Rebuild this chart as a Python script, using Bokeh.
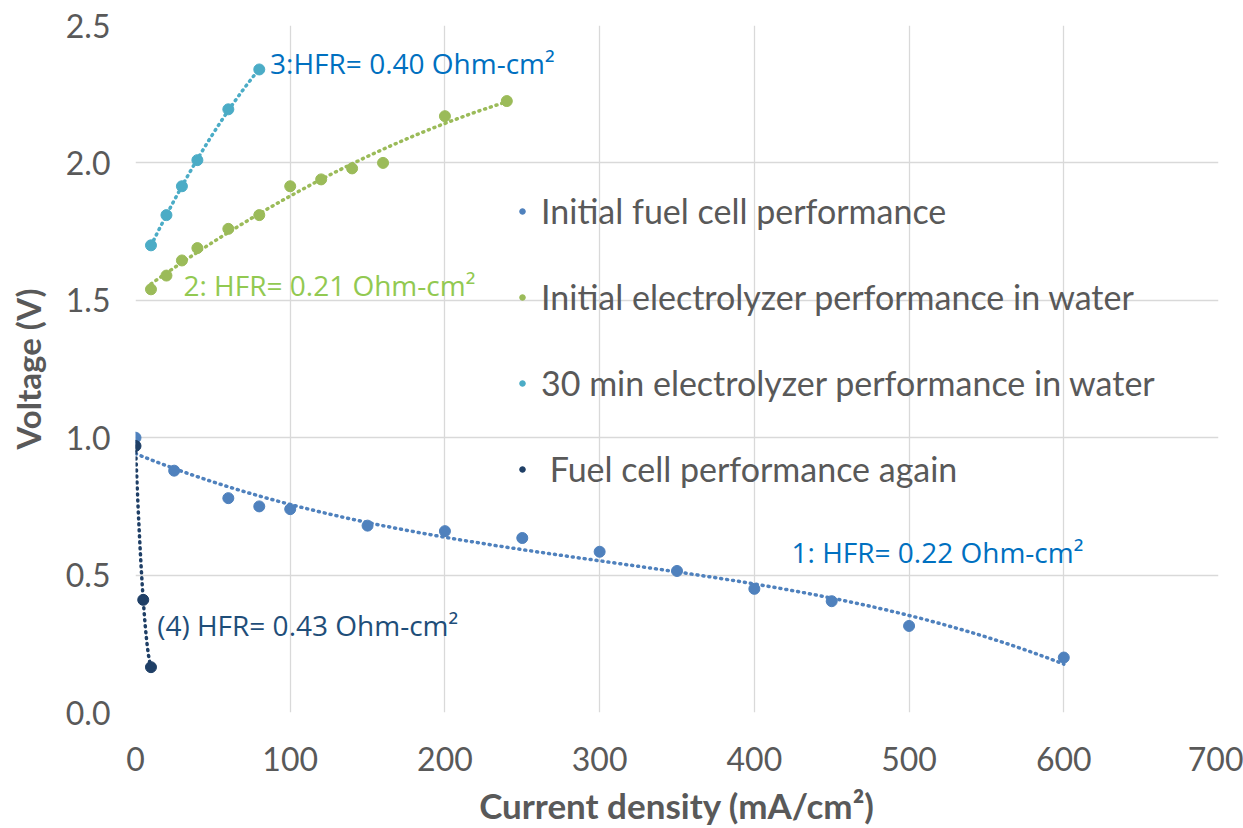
import numpy as np
from bokeh.plotting import figure
from bokeh.models import Range1d, Legend, LegendItem, Label, FixedTicker, CustomJSTickFormatter
from bokeh.embed import file_html
from bokeh.resources import INLINE

# ---- data ----
fc1_x = [0, 25, 60, 80, 100, 150, 200, 250, 300, 350, 400, 450, 500, 600]
fc1_y = [1.00, 0.88, 0.78, 0.75, 0.74, 0.68, 0.66, 0.635, 0.585, 0.515, 0.45, 0.405, 0.315, 0.20]

el1_x = [10, 20, 30, 40, 60, 80, 100, 120, 140, 160, 200, 240]
el1_y = [1.54, 1.59, 1.645, 1.69, 1.76, 1.81, 1.915, 1.94, 1.98, 2.00, 2.17, 2.225]

el2_x = [10, 20, 30, 40, 60, 80]
el2_y = [1.70, 1.81, 1.915, 2.01, 2.195, 2.34]

fc2_x = [0, 5, 10]
fc2_y = [0.97, 0.41, 0.165]

series_names = ["Initial fuel cell performance",
                "Initial electrolyzer performance in water",
                "30 min electrolyzer performance in water",
                " Fuel cell performance again"]
colors = ["#4F81BD", "#9BBB59", "#4BACC6", "#1F3F66"]
trend_degree = [3, 2, 2, 2]

annotations = ["1: HFR= 0.22 Ohm-cm\u00b2", "2: HFR= 0.21 Ohm-cm\u00b2",
               "3:HFR= 0.40 Ohm-cm\u00b2", "(4) HFR= 0.43 Ohm-cm\u00b2"]
ann_x = [424, 31, 87, 14]
ann_y = [0.585, 1.555, 2.365, 0.32]
ann_colors = ["#0070C0", "#92C951", "#0070C0", "#1F4E79"]

x_ticks = [0, 100, 200, 300, 400, 500, 600, 700]
y_ticks = [0.0, 0.5, 1.0, 1.5, 2.0, 2.5]

p = figure(width=1243, height=828, output_backend="svg", toolbar_location=None,
           x_range=Range1d(0, 700), y_range=Range1d(0, 2.5),
           min_border_left=135, min_border_right=25, min_border_top=25, min_border_bottom=115)
p.outline_line_color = None
p.background_fill_color = "white"
p.border_fill_color = "white"

for ax in (p.xaxis[0], p.yaxis[0]):
    ax.axis_line_color = None
    ax.major_tick_line_color = None
    ax.minor_tick_line_color = None
    ax.major_tick_out = 0
    ax.major_tick_in = 0
    ax.major_label_text_color = "#595959"
    ax.major_label_text_font = "Lato"
    ax.major_label_text_font_size = "32px"
    ax.axis_label_text_color = "#595959"
    ax.axis_label_text_font = "Lato"
    ax.axis_label_text_font_style = "bold"

p.xaxis.axis_label_text_font_size = "35px"
p.yaxis.axis_label_text_font_size = "33px"
p.xaxis.ticker = FixedTicker(ticks=x_ticks)
p.yaxis.ticker = FixedTicker(ticks=y_ticks)
p.yaxis.formatter = CustomJSTickFormatter(code="return tick.toFixed(1);")
p.xaxis.major_label_standoff = 34
p.yaxis.major_label_standoff = 25
p.xaxis.axis_label = "Current density (mA/cm\u00b2)"
p.yaxis.axis_label = "Voltage (V)"
p.xaxis.axis_label_standoff = 10
p.yaxis.axis_label_standoff = 15

p.xgrid.ticker = FixedTicker(ticks=x_ticks)
p.ygrid.ticker = FixedTicker(ticks=y_ticks)
p.xgrid.grid_line_color = "#D9D9D9"
p.ygrid.grid_line_color = "#D9D9D9"
p.xgrid.grid_line_width = 1.3
p.ygrid.grid_line_width = 1.3

all_x = [fc1_x, el1_x, el2_x, fc2_x]
all_y = [fc1_y, el1_y, el2_y, fc2_y]
items = []
for xs, ys, c, d in zip(all_x, all_y, colors, trend_degree):
    coef = np.polyfit(xs, ys, d)
    tx = np.linspace(min(xs), max(xs), 120)
    ty = np.polyval(coef, tx)
    p.line(tx, ty, line_color=c, line_width=3.5, line_dash="1 5", line_cap="round")
for xs, ys, c, name in zip(all_x, all_y, colors, series_names):
    r = p.scatter(xs, ys, size=11, fill_color=c, line_color=c)
    items.append(LegendItem(label=name, renderers=[r]))

legend = Legend(items=items, location=(380, 223), orientation="vertical",
                label_text_font="Lato", label_text_font_size="34px",
                label_text_color="#595959", label_height=36, glyph_height=36,
                glyph_width=14, spacing=45, label_standoff=12, padding=0, margin=0,
                border_line_color=None, background_fill_alpha=0)
p.add_layout(legend, "center")

for t, x, y, c in zip(annotations, ann_x, ann_y, ann_colors):
    p.add_layout(Label(x=x, y=y, text=t, text_color=c, text_font="Open Sans",
                       text_font_size="28px", text_baseline="middle", text_align="left"))

open("out.html", "w").write(file_html(p, INLINE))
